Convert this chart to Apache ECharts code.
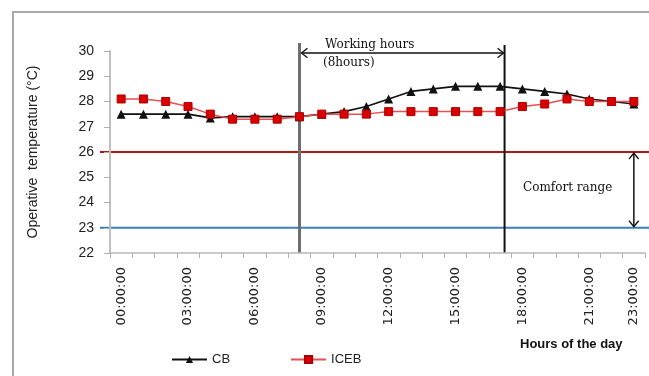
<!DOCTYPE html>
<html>
<head>
<meta charset="utf-8">
<script src="https://cdn.jsdelivr.net/npm/echarts@6/dist/echarts.min.js"></script>
<style>
  html, body { margin: 0; padding: 0; background: #fff; }
  #chart { width: 649px; height: 376px; }
</style>
</head>
<body>
<div id="chart"></div>
<script>
// Hourly operative temperature for the two building variants
const hours = ['00:00:00','01:00:00','02:00:00','03:00:00','04:00:00','05:00:00','06:00:00','07:00:00',
  '08:00:00','09:00:00','10:00:00','11:00:00','12:00:00','13:00:00','14:00:00','15:00:00',
  '16:00:00','17:00:00','18:00:00','19:00:00','20:00:00','21:00:00','22:00:00','23:00:00'];
const cbTemp   = [27.5, 27.5, 27.5, 27.5, 27.35, 27.4, 27.4, 27.4, 27.4, 27.5, 27.6, 27.8,
                  28.1, 28.4, 28.5, 28.6, 28.6, 28.6, 28.5, 28.4, 28.3, 28.1, 28.0, 27.9];
const icebTemp = [28.1, 28.1, 28.0, 27.8, 27.5, 27.3, 27.3, 27.3, 27.4, 27.5, 27.5, 27.5,
                  27.6, 27.6, 27.6, 27.6, 27.6, 27.6, 27.8, 27.9, 28.1, 28.0, 28.0, 28.0];
const labelledHours = [0, 3, 6, 9, 12, 15, 18, 21, 23];
// Comfort band limits (°C) and working-hours span (hour index)
const comfortLow = 23, comfortHigh = 26;
const workStart = 8, workEnd = 17.2;

const chart = echarts.init(document.getElementById('chart'));
const sans = '"Liberation Sans", Arial, sans-serif';
const serif = '"DejaVu Serif", "Liberation Serif", serif';

chart.setOption({
  animation: false,
  grid: { left: 110, right: 4, top: 51, bottom: 123 },
  legend: {
    left: 166, top: 348,
    itemWidth: 35, itemHeight: 9, itemGap: 60,
    textStyle: { fontFamily: sans, fontSize: 13, color: '#222' },
    data: ['CB', 'ICEB']
  },
  xAxis: [{
    type: 'category',
    data: hours,
    boundaryGap: true,
    axisLine: { lineStyle: { color: '#b8b8b8', width: 1.5 } },
    axisTick: { show: true, interval: 0, length: 5, lineStyle: { color: '#b0b0b0' } },
    axisLabel: {
      interval: (i) => labelledHours.includes(i),
      rotate: 90, margin: 14,
      fontFamily: '"DejaVu Sans", sans-serif', fontSize: 13, color: '#222'
    },
    splitLine: { show: false }
  }, {
    // hidden hour scale used to place annotations between categories
    type: 'value', min: -0.5, max: 23.5, show: false
  }],
  yAxis: {
    type: 'value', min: 22, max: 30, interval: 1,
    name: 'Operative  temperature (°C)',
    nameLocation: 'middle', nameGap: 70,
    nameTextStyle: { fontFamily: sans, fontSize: 14, color: '#222' },
    axisLine: { show: true, onZero: false, lineStyle: { color: '#c0c0c0', width: 2 } },
    axisTick: { show: true, length: 6, lineStyle: { color: '#b0b0b0' } },
    axisLabel: { margin: 16, fontFamily: sans, fontSize: 14, color: '#222' },
    splitLine: { show: false }
  },
  series: [{
    name: 'CB', type: 'line', data: cbTemp,
    symbol: 'triangle', symbolSize: 9,
    lineStyle: { color: '#111', width: 1.6 },
    itemStyle: { color: '#111' }
  }, {
    name: 'ICEB', type: 'line', data: icebTemp,
    symbol: 'rect', symbolSize: 8,
    lineStyle: { color: '#e85050', width: 1.5 },
    itemStyle: { color: '#d80000', borderColor: '#b00000', borderWidth: 1 }
  }]
});

// Annotations: comfort limits, working-hours markers, arrows and notes
function px(hour, temp) {
  const x = chart.convertToPixel({ xAxisIndex: 1 }, hour);
  const y = chart.convertToPixel({ yAxisIndex: 0 }, temp);
  return [x, y];
}
const yTop = px(0, 30)[1];
const yBottom = px(0, 22)[1];
const yHigh = px(0, comfortHigh)[1];
const yLow = px(0, comfortLow)[1];
const xStart = px(workStart, 22)[0];
const xEnd = px(workEnd, 22)[0];
const xComfort = px(23, 22)[0];
const arrowY = yTop + 2;

function arrowHead(x, y, dx, dy) {
  // open chevron pointing in direction (dx, dy)
  const s = 6;
  const px1 = [x - dx * s - dy * s * 0.8, y - dy * s - dx * s * 0.8];
  const px2 = [x - dx * s + dy * s * 0.8, y - dy * s + dx * s * 0.8];
  return { type: 'polyline', shape: { points: [px1, [x, y], px2] },
           style: { stroke: '#111', lineWidth: 1.3, fill: null } };
}

chart.setOption({
  graphic: [
    { type: 'rect', shape: { x: 13, y: 12, width: 700, height: 420 },
      style: { fill: null, stroke: '#a8a8a8', lineWidth: 2 }, z: 0 },
    { type: 'line', shape: { x1: 100, y1: yHigh, x2: 649, y2: yHigh },
      style: { stroke: '#b01818', lineWidth: 2 } },
    { type: 'line', shape: { x1: 100, y1: yLow, x2: 649, y2: yLow },
      style: { stroke: '#3b7fc0', lineWidth: 2 } },
    { type: 'line', shape: { x1: xStart, y1: yTop - 8, x2: xStart, y2: yBottom },
      style: { stroke: '#6e6e6e', lineWidth: 3 } },
    { type: 'line', shape: { x1: xEnd, y1: yTop - 6, x2: xEnd, y2: yBottom },
      style: { stroke: '#111', lineWidth: 2 } },
    { type: 'line', shape: { x1: xStart + 2, y1: arrowY, x2: xEnd - 1, y2: arrowY },
      style: { stroke: '#111', lineWidth: 1.5 } },
    arrowHead(xStart + 2, arrowY, -1, 0),
    arrowHead(xEnd - 1, arrowY, 1, 0),
    { type: 'text', x: 325, y: yTop - 12,
      style: { text: 'Working hours', font: '12px ' + serif, fill: '#111' } },
    { type: 'text', x: 323, y: yTop + 6,
      style: { text: '(8hours)', font: '12px ' + serif, fill: '#111' } },
    { type: 'line', shape: { x1: xComfort, y1: yHigh + 1, x2: xComfort, y2: yLow - 1 },
      style: { stroke: '#111', lineWidth: 1.5 } },
    arrowHead(xComfort, yHigh + 1, 0, -1),
    arrowHead(xComfort, yLow - 1, 0, 1),
    { type: 'text', x: 523, y: (yHigh + yLow) / 2 - 8,
      style: { text: 'Comfort range', font: '12px ' + serif, fill: '#111' } },
    { type: 'text', x: 520, y: 338,
      style: { text: 'Hours of the day', font: 'bold 13px ' + sans, fill: '#111' } }
  ]
});
</script>
</body>
</html>
